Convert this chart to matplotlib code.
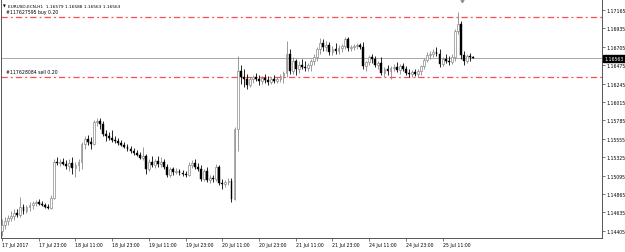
import numpy as np
import matplotlib
matplotlib.use('Agg')
import matplotlib.pyplot as plt
import matplotlib.transforms as mtransforms

# EURUSD H1 candles, 17 Jul 11:00 .. 25 Jul 21:00 (weekend skipped)
opens = [1.1440, 1.1448, 1.1453, 1.1456, 1.1459, 1.1463, 1.1460, 1.1470, 1.1465, 1.1470,
         1.1473, 1.1475, 1.1476, 1.1474, 1.1473, 1.1470, 1.1469, 1.1481, 1.1526, 1.1525,
         1.1526, 1.1524, 1.1521, 1.1525, 1.1519, 1.1523, 1.1526, 1.1549, 1.1555, 1.1551,
         1.1549, 1.1576, 1.1578, 1.1574, 1.1561, 1.1559, 1.1556, 1.1554, 1.1553, 1.1550,
         1.1548, 1.1545, 1.1543, 1.1540, 1.1538, 1.1535, 1.1531, 1.1534, 1.1518, 1.1526,
         1.1523, 1.1528, 1.1524, 1.1526, 1.1520, 1.1510, 1.1518, 1.1514, 1.1515, 1.1513,
         1.1511, 1.1510, 1.1523, 1.1525, 1.1520, 1.1518, 1.1505, 1.1515, 1.1504, 1.1506,
         1.1505, 1.1520, 1.1500, 1.1499, 1.1501, 1.1503, 1.1480, 1.1568, 1.1640, 1.1633,
         1.1630, 1.1623, 1.1630, 1.1633, 1.1630, 1.1628, 1.1631, 1.1629, 1.1626, 1.1630,
         1.1628, 1.1630, 1.1634, 1.1638, 1.1661, 1.1640, 1.1653, 1.1643, 1.1648, 1.1645,
         1.1644, 1.1648, 1.1653, 1.1658, 1.1668, 1.1675, 1.1670, 1.1673, 1.1664, 1.1668,
         1.1665, 1.1669, 1.1671, 1.1680, 1.1669, 1.1670, 1.1671, 1.1673, 1.1670, 1.1646,
         1.1651, 1.1658, 1.1655, 1.1648, 1.1650, 1.1638, 1.1643, 1.1640, 1.1644, 1.1645,
         1.1641, 1.1646, 1.1643, 1.1638, 1.1636, 1.1639, 1.1636, 1.1640, 1.1646, 1.1654,
         1.1660, 1.1661, 1.1664, 1.1661, 1.1649, 1.1655, 1.1653, 1.1651, 1.1658, 1.1690,
         1.1699, 1.1660, 1.1653, 1.1659, 1.16579]
highs = [1.1455, 1.1458, 1.1460, 1.1465, 1.1468, 1.1468, 1.1483, 1.1474, 1.1473, 1.1476,
         1.1478, 1.1479, 1.1480, 1.1478, 1.1475, 1.1474, 1.1485, 1.1530, 1.1533, 1.1530,
         1.1531, 1.1529, 1.1530, 1.1533, 1.1526, 1.1530, 1.1551, 1.1559, 1.1560, 1.1558,
         1.1579, 1.1581, 1.1581, 1.1578, 1.1566, 1.1564, 1.1566, 1.1559, 1.1556, 1.1554,
         1.1551, 1.1549, 1.1546, 1.1544, 1.1541, 1.1539, 1.1545, 1.1536, 1.1530, 1.1534,
         1.1530, 1.1534, 1.1533, 1.1530, 1.1524, 1.1520, 1.1520, 1.1519, 1.1518, 1.1516,
         1.1515, 1.1526, 1.1529, 1.1530, 1.1525, 1.1523, 1.1518, 1.1520, 1.1510, 1.1510,
         1.1524, 1.1523, 1.1505, 1.1504, 1.1506, 1.1506, 1.1570, 1.1659, 1.1648, 1.1643,
         1.1636, 1.1633, 1.1635, 1.1638, 1.1635, 1.1634, 1.1636, 1.1634, 1.1633, 1.1635,
         1.1633, 1.1636, 1.1640, 1.1678, 1.1668, 1.1658, 1.1655, 1.1653, 1.1655, 1.1653,
         1.1650, 1.1655, 1.1661, 1.1670, 1.1681, 1.1680, 1.1678, 1.1676, 1.1671, 1.1675,
         1.1673, 1.1674, 1.1683, 1.1683, 1.1673, 1.1674, 1.1675, 1.1675, 1.1676, 1.1653,
         1.1660, 1.1661, 1.1659, 1.1653, 1.1658, 1.1645, 1.1648, 1.1646, 1.1649, 1.1651,
         1.1649, 1.1650, 1.1646, 1.1643, 1.1641, 1.1643, 1.1643, 1.1648, 1.1656, 1.1664,
         1.1665, 1.1668, 1.1670, 1.1668, 1.1658, 1.1661, 1.1659, 1.1661, 1.1693, 1.1714,
         1.1703, 1.1665, 1.1661, 1.1663, 1.16588]
lows = [1.1434, 1.1443, 1.1448, 1.1453, 1.1454, 1.1458, 1.1458, 1.1461, 1.1463, 1.1465,
        1.1468, 1.1471, 1.1473, 1.1471, 1.1469, 1.1468, 1.1468, 1.1480, 1.1523, 1.1521,
        1.1523, 1.1518, 1.1515, 1.1511, 1.1508, 1.1515, 1.1518, 1.1543, 1.1548, 1.1543,
        1.1548, 1.1571, 1.1568, 1.1559, 1.1553, 1.1554, 1.1551, 1.1550, 1.1548, 1.1546,
        1.1544, 1.1540, 1.1538, 1.1535, 1.1534, 1.1530, 1.1529, 1.1511, 1.1515, 1.1520,
        1.1519, 1.1520, 1.1520, 1.1518, 1.1508, 1.1508, 1.1510, 1.1511, 1.1510, 1.1509,
        1.1508, 1.1509, 1.1519, 1.1518, 1.1515, 1.1503, 1.1503, 1.1501, 1.1500, 1.1501,
        1.1503, 1.1498, 1.1493, 1.1495, 1.1498, 1.1476, 1.1479, 1.1540, 1.1624, 1.1620,
        1.1618, 1.1620, 1.1625, 1.1628, 1.1623, 1.1624, 1.1625, 1.1623, 1.1624, 1.1625,
        1.1625, 1.1626, 1.1625, 1.1633, 1.1636, 1.1636, 1.1635, 1.1638, 1.1643, 1.1640,
        1.1640, 1.1640, 1.1648, 1.1653, 1.1661, 1.1665, 1.1665, 1.1660, 1.1660, 1.1661,
        1.1661, 1.1664, 1.1668, 1.1665, 1.1665, 1.1666, 1.1668, 1.1668, 1.1643, 1.1640,
        1.1648, 1.1650, 1.1645, 1.1643, 1.1635, 1.1633, 1.1635, 1.1630, 1.1640, 1.1639,
        1.1636, 1.1640, 1.1635, 1.1633, 1.1633, 1.1634, 1.1633, 1.1635, 1.1643, 1.1651,
        1.1655, 1.1658, 1.1659, 1.1645, 1.1646, 1.1650, 1.1648, 1.1649, 1.1653, 1.1686,
        1.1655, 1.1648, 1.1650, 1.1653, 1.16563]
closes = [1.1448, 1.1453, 1.1456, 1.1459, 1.1463, 1.1460, 1.1470, 1.1465, 1.1470, 1.1473,
          1.1475, 1.1476, 1.1474, 1.1473, 1.1470, 1.1469, 1.1481, 1.1526, 1.1525, 1.1526,
          1.1524, 1.1521, 1.1525, 1.1519, 1.1523, 1.1526, 1.1549, 1.1555, 1.1551, 1.1549,
          1.1576, 1.1578, 1.1574, 1.1561, 1.1559, 1.1556, 1.1554, 1.1553, 1.1550, 1.1548,
          1.1545, 1.1543, 1.1540, 1.1538, 1.1535, 1.1531, 1.1534, 1.1518, 1.1526, 1.1523,
          1.1528, 1.1524, 1.1526, 1.1520, 1.1510, 1.1518, 1.1514, 1.1515, 1.1513, 1.1511,
          1.1510, 1.1523, 1.1525, 1.1520, 1.1518, 1.1505, 1.1515, 1.1504, 1.1506, 1.1505,
          1.1520, 1.1500, 1.1499, 1.1501, 1.1503, 1.1480, 1.1568, 1.1640, 1.1633, 1.1630,
          1.1623, 1.1630, 1.1633, 1.1630, 1.1628, 1.1631, 1.1629, 1.1626, 1.1630, 1.1628,
          1.1630, 1.1634, 1.1638, 1.1661, 1.1640, 1.1653, 1.1643, 1.1648, 1.1645, 1.1644,
          1.1648, 1.1653, 1.1658, 1.1668, 1.1675, 1.1670, 1.1673, 1.1664, 1.1668, 1.1665,
          1.1669, 1.1671, 1.1680, 1.1669, 1.1670, 1.1671, 1.1673, 1.1670, 1.1646, 1.1651,
          1.1658, 1.1655, 1.1648, 1.1650, 1.1638, 1.1643, 1.1640, 1.1644, 1.1645, 1.1641,
          1.1646, 1.1643, 1.1638, 1.1636, 1.1639, 1.1636, 1.1640, 1.1646, 1.1654, 1.1660,
          1.1661, 1.1664, 1.1661, 1.1649, 1.1655, 1.1653, 1.1651, 1.1658, 1.1690, 1.1699,
          1.1660, 1.1653, 1.1659, 1.16579, 1.16563]

price_ticks = [1.17165, 1.16935, 1.16705, 1.16475, 1.16245, 1.16015, 1.15785,
               1.15555, 1.15325, 1.15095, 1.14865, 1.14635, 1.14405]
time_labels = ['17 Jul 2017', '17 Jul 23:00', '18 Jul 11:00', '18 Jul 23:00',
               '19 Jul 11:00', '19 Jul 23:00', '20 Jul 11:00', '20 Jul 23:00',
               '21 Jul 11:00', '21 Jul 23:00', '24 Jul 11:00', '24 Jul 23:00',
               '25 Jul 11:00']
bid = 1.16563
buy_price = 1.17078
sell_price = 1.16328
buy_label = '#117627595 buy 0.20'
sell_label = '#117628084 sell 0.20'
header = 'EURUSD-ECN,H1  1.16579 1.16588 1.16563 1.16563'

FS = 3.3
UP_COL = '#8a8a8a'
ORDER_COL = '#ff1f1f'

fig = plt.figure(figsize=(6.25, 2.53), dpi=100)
ax = fig.add_axes([1 / 625, 14 / 253, 601 / 625, 239 / 253])

x = np.arange(len(closes))
o = np.array(opens)
h = np.array(highs)
l = np.array(lows)
c = np.array(closes)
up = c >= o

# wicks
ax.vlines(x[up], l[up], h[up], color=UP_COL, lw=0.6, zorder=2)
ax.vlines(x[~up], l[~up], h[~up], color='black', lw=0.6, zorder=2)
# bodies
ax.bar(x[up], np.maximum(c - o, 0.00002)[up], bottom=o[up], width=0.6,
       facecolor='white', edgecolor=UP_COL, lw=0.5, zorder=3)
ax.bar(x[~up], (o - c)[~up], bottom=c[~up], width=0.6,
       facecolor='black', edgecolor='black', lw=0.3, zorder=3)

# bid line and order levels
ax.axhline(bid, color='#a8a8a8', lw=0.7, zorder=1)
for lvl in (buy_price, sell_price):
    ax.axhline(lvl, color=ORDER_COL, lw=0.9, alpha=0.8,
               ls=(0, (5, 2.5, 1.5, 2.5)), zorder=1)
ax.text(1.3, buy_price + 0.00035, buy_label, fontsize=FS, va='bottom', ha='left')
ax.text(1.3, sell_price + 0.00035, sell_label, fontsize=FS, va='bottom', ha='left')

ax.set_xlim(-0.33, 196.1)
ax.set_ylim(1.14315, 1.17302)

ax.yaxis.tick_right()
ax.set_yticks(price_ticks)
ax.set_yticklabels(['%.5f' % p for p in price_ticks])
ax.set_xticks(range(0, 12 * len(time_labels), 12))
ax.set_xticklabels(time_labels)
for lbl in ax.get_xticklabels():
    lbl.set_ha('left')
ax.tick_params(axis='both', labelsize=FS, length=2, width=0.5, pad=1.2,
               color='#404040')

for sp in ax.spines.values():
    sp.set_color('#555555')
    sp.set_linewidth(0.7)

# current price box on the price scale
trans = mtransforms.blended_transform_factory(ax.transAxes, ax.transData)
ax.text(1.004, bid, '%.5f' % bid, transform=trans, fontsize=FS, color='white',
        va='center', ha='left', clip_on=False,
        bbox=dict(facecolor='black', edgecolor='black', pad=0.8))

# header and chart-shift marker
fig.text(2.5 / 625, 1 - 6.5 / 253, '\u25bc', fontsize=2.6, va='center', ha='left')
fig.text(8 / 625, 1 - 6.5 / 253, header, fontsize=3.1, va='center', ha='left')
ax.plot([150.3], [1.0 - 0.005], marker='v', ms=3.2, color='#909090',
        transform=mtransforms.blended_transform_factory(ax.transData, ax.transAxes),
        clip_on=False)

fig.savefig('out.png', dpi=100, facecolor='white')
